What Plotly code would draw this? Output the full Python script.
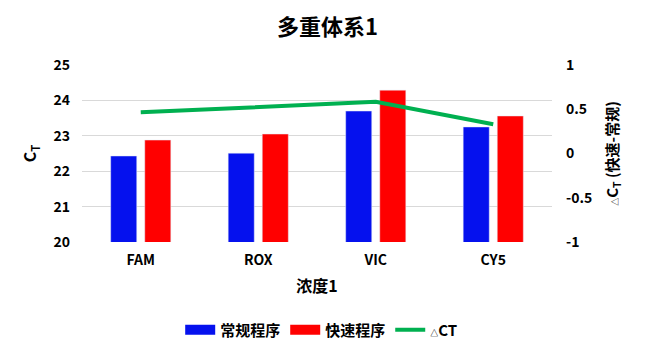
import plotly.graph_objects as go

categories = ["FAM", "ROX", "VIC", "CY5"]
normal = [22.43, 22.51, 23.70, 23.25]
fast = [22.88, 23.05, 24.29, 23.56]
delta = [0.465, 0.53, 0.585, 0.33]

FONT = "Noto Sans CJK SC, Microsoft YaHei, sans-serif"
BLUE = "#0511EE"
RED = "#FF0000"
GREEN = "#00B050"

fig = go.Figure()
fig.add_trace(go.Bar(x=categories, y=normal, name="常规程序", marker_color=BLUE, yaxis="y",
                     showlegend=False, legendgroup="n"))
fig.add_trace(go.Bar(x=categories, y=fast, name="快速程序", marker_color=RED, yaxis="y",
                     showlegend=False, legendgroup="f"))
fig.add_trace(go.Scatter(x=categories, y=delta, name="<b><span style='font-size:8px'>△</span>CT</b>",
                         mode="lines", line=dict(color=GREEN, width=4), yaxis="y2",
                         showlegend=False, legendgroup="d"))
# legend entries (wide rectangles as in the reference)
fig.add_trace(go.Scatter(x=[None], y=[None], mode="lines", name="<b>常规程序</b>",
                         line=dict(color=BLUE, width=10), legendgroup="n", yaxis="y"))
fig.add_trace(go.Scatter(x=[None], y=[None], mode="lines", name="<b>快速程序</b>",
                         line=dict(color=RED, width=10), legendgroup="f", yaxis="y"))
fig.add_trace(go.Scatter(x=[None], y=[None], mode="lines", name="<b><span style='font-size:8px'>△</span>CT</b>",
                         line=dict(color=GREEN, width=4), legendgroup="d", yaxis="y2"))

fig.update_layout(
    width=639, height=350,
    margin=dict(l=74, r=95, t=57, b=116, autoexpand=False),
    paper_bgcolor="white", plot_bgcolor="white",
    font=dict(family=FONT, color="black", size=14),
    title=dict(text="<b>多重体系1</b>", x=0.5, xanchor="center", y=0.946, yanchor="middle",
               font=dict(size=22, family=FONT)),
    barmode="group", bargap=0.42, bargroupgap=0.235,
    showlegend=True,
    legend=dict(orientation="h", x=0.51, xanchor="center", y=-0.497, yanchor="middle",
                font=dict(size=15, family=FONT), traceorder="normal", itemwidth=30),
    xaxis=dict(title=dict(text="<b>浓度1</b>", font=dict(size=16), standoff=12),
               tickfont=dict(size=14), ticklabelstandoff=8,
               tickvals=categories, ticktext=[f"<b>{c}</b>" for c in categories],
               showline=False, showgrid=False, automargin=False),
    yaxis=dict(range=[20, 25], showgrid=True, gridcolor="#D9D9D9", gridwidth=1,
               tickvals=[20, 21, 22, 23, 24, 25], ticktext=[f"<b>{v}</b>" for v in [20, 21, 22, 23, 24, 25]],
               tickfont=dict(size=14),
               title=dict(text="<b>C<sub>T</sub></b>", font=dict(size=16), standoff=12),
               zeroline=False, showline=False, ticks="", ticklabelstandoff=11, automargin=False),
    yaxis2=dict(range=[-1, 1], overlaying="y", side="right", showgrid=False, zeroline=False,
                tickvals=[-1, -0.5, 0, 0.5, 1], ticktext=["<b>-1</b>", "<b>-0.5</b>", "<b>0</b>", "<b>0.5</b>", "<b>1</b>"],
                tickfont=dict(size=14),
                title=dict(text="<b><span style='font-size:8px'>△</span>C<sub>T</sub> (快速-常规)</b>", font=dict(size=15), standoff=16),
                ticks="", ticklabelstandoff=13, automargin=False),
)

fig.write_html("out.html")
